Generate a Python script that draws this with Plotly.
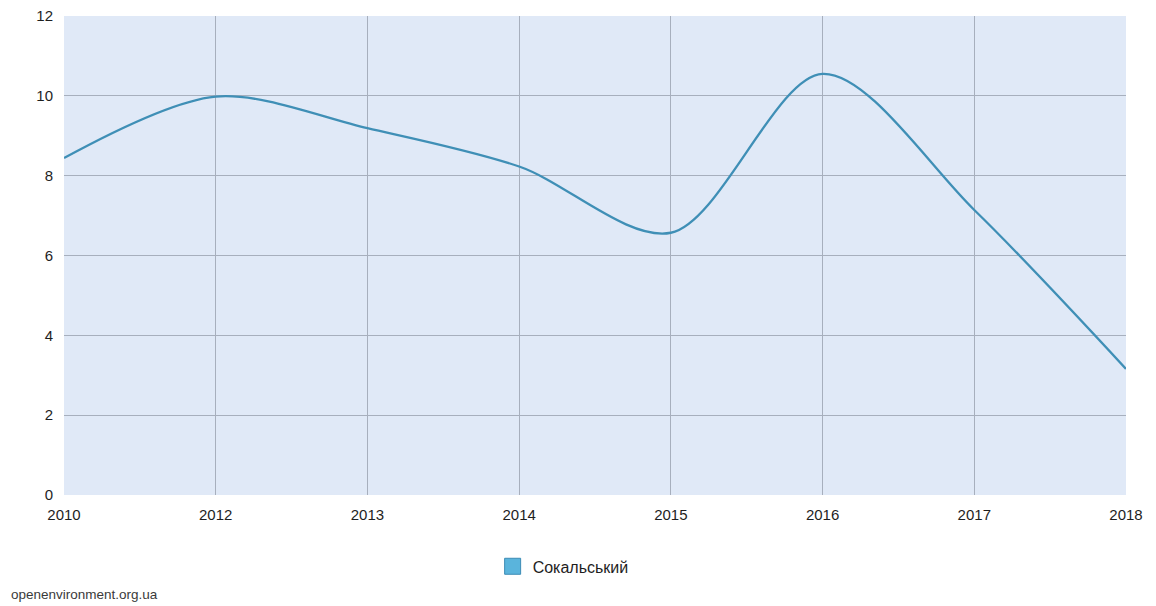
import plotly.graph_objects as go

years = ["2010", "2012", "2013", "2014", "2015", "2016", "2017", "2018"]
values = [8.44, 9.98, 9.19, 8.23, 6.57, 10.55, 7.14, 3.16]
y_ticks = [0, 2, 4, 6, 8, 10, 12]
series_name = "Сокальський"
source_text = "openenvironment.org.ua"

fig = go.Figure()
fig.add_trace(go.Scatter(
    x=years, y=values, mode="lines",
    line=dict(shape="spline", smoothing=0.9, color="#3f8fb6", width=2.3),
    showlegend=False, hoverinfo="x+y",
))
# legend entry (square swatch)
fig.add_trace(go.Scatter(
    x=years, y=[None] * len(years), name=series_name, mode="markers",
    marker=dict(symbol="square", size=18, color="#5ab4dc",
                line=dict(color="#3d8cb5", width=1)),
    showlegend=True,
))

fig.update_layout(
    width=1156, height=606,
    margin=dict(l=56, r=38, t=8, b=119, autoexpand=False),
    paper_bgcolor="white",
    plot_bgcolor="#e0e9f7",
    font=dict(family="Liberation Sans, Arial, sans-serif", size=15, color="#1e1e1e"),
    showlegend=True,
    legend=dict(orientation="h", x=0.47, xanchor="center", y=-0.149, yanchor="middle",
                font=dict(size=16, color="#1e1e1e"), bgcolor="rgba(0,0,0,0)"),
    xaxis=dict(type="category", range=[0, len(years) - 1], showgrid=True,
               gridcolor="#a7afbd", gridwidth=1, zeroline=False, showline=False,
               ticks="", ticklabelstandoff=9, tickfont=dict(size=15),
               ticklabeloverflow="allow"),
    yaxis=dict(range=[0, 12], tickvals=y_ticks, showgrid=True, gridcolor="#a7afbd",
               gridwidth=1, zeroline=False, showline=False, ticks="",
               ticklabelstandoff=10, tickfont=dict(size=15),
               ticklabeloverflow="allow"),
    annotations=[dict(text=source_text, xref="paper", yref="paper", x=-0.052, y=-0.207,
                      xanchor="left", yanchor="middle", showarrow=False,
                      font=dict(family="Liberation Sans Narrow, Liberation Sans, Arial", size=13.5,
                                color="#3a3a3a"))],
)

fig.write_html("out.html")
